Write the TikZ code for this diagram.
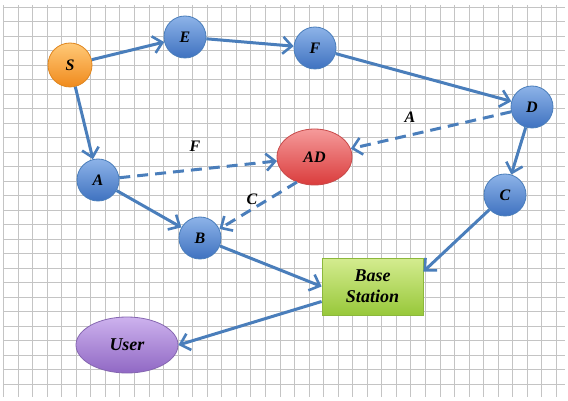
\documentclass[tikz,border=0pt]{standalone}
\usepackage{fontspec}
\setmainfont{Liberation Serif}
\usetikzlibrary{arrows.meta,shapes.geometric}
\definecolor{gridc}{HTML}{C4C4C4}
\definecolor{arr}{HTML}{4A7EBB}
\definecolor{bluetop}{HTML}{8DB3E8}
\definecolor{bluebot}{HTML}{3F72C0}
\definecolor{bluedr}{HTML}{4A7EBB}
\definecolor{ortop}{HTML}{FFC978}
\definecolor{orbot}{HTML}{F08A1C}
\definecolor{ordr}{HTML}{E0861E}
\definecolor{redtop}{HTML}{F59A9A}
\definecolor{redbot}{HTML}{DA3C3C}
\definecolor{reddr}{HTML}{C84A4A}
\definecolor{grtop}{HTML}{D4EC90}
\definecolor{grbot}{HTML}{98C83A}
\definecolor{grdr}{HTML}{8CB83C}
\definecolor{putop}{HTML}{CDB2EE}
\definecolor{pubot}{HTML}{9068C4}
\definecolor{pudr}{HTML}{8566B0}
\tikzset{
  x=1pt, y=-1pt,
  lbl/.style={font=\fontsize{16}{18}\selectfont\bfseries\itshape, text=black},
  bnode/.style={circle, minimum size=42pt, inner sep=0pt, top color=bluetop, bottom color=bluebot, draw=bluedr, line width=0.8pt, lbl},
  onode/.style={circle, minimum size=44pt, inner sep=0pt, top color=ortop, bottom color=orbot, draw=ordr, line width=0.8pt, lbl},
  rnode/.style={ellipse, minimum width=75pt, minimum height=56pt, inner sep=0pt, top color=redtop, bottom color=redbot, draw=reddr, line width=0.8pt, lbl},
  unode/.style={ellipse, minimum width=102pt, minimum height=56pt, inner sep=0pt, top color=putop, bottom color=pubot, draw=pudr, line width=0.8pt, text=black, font=\fontsize{18}{20}\selectfont\bfseries\itshape},
  bsnode/.style={rectangle, minimum width=101pt, minimum height=57pt, inner sep=0pt, top color=grtop, bottom color=grbot, draw=grdr, line width=0.8pt, align=center, text=black, font=\fontsize{18}{21}\selectfont\bfseries\itshape},
  conn/.style={draw=arr, line width=3pt, -{Straight Barb[length=9pt,width=17pt,line width=2.6pt]}},
  dconn/.style={conn, dash pattern=on 11pt off 7pt},
  elbl/.style={lbl}
}
\begin{document}
\begin{tikzpicture}
\useasboundingbox (0,0) rectangle (568,401);
\fill[white] (0,0) rectangle (568,401);
% grid
\foreach \i in {0,...,38} {
  \draw[gridc, line width=0.9pt] ({3.5+14.55*\i},5) -- ({3.5+14.55*\i},397);
}
\foreach \j in {0,...,26} {
  \draw[gridc, line width=0.9pt] (4,{7+14.5*\j}) -- (565,{7+14.5*\j});
}
% nodes
\node[onode] (S) at (70,65) {S};
\node[bnode] (E) at (185,37) {E};
\node[bnode] (F) at (315,48) {F};
\node[bnode] (D) at (532,107) {D};
\node[rnode] (AD) at (314.5,157) {AD};
\node[bnode] (A) at (98,180) {A};
\node[bnode] (C) at (505,195) {C};
\node[bnode] (B) at (200,238) {B};
\node[bsnode] (BS) at (372.5,286.5) {Base\\Station};
\node[unode] (U) at (127,345) {User};
% edges
\draw[conn] (S) -- (E);
\draw[conn] (E) -- (F);
\draw[conn] (F) -- (D);
\draw[conn] (S) -- (A);
\draw[conn] (D) -- (C);
\draw[conn] (A) -- (B);
\draw[conn] (B) -- (BS.west);
\draw[conn] (C) -- ([yshift=-14pt]BS.north east);
\draw[conn] ([yshift=-15pt]BS.west) -- (U.east);
\draw[dconn] (A) -- (AD);
\draw[dconn] (D) -- (AD);
\draw[dconn] (AD.235) -- (B.25);
% edge labels
\node[elbl] (lF) at (195,146) {F};
\node[elbl] (lA) at (410,117) {A};
\node[elbl] (lC) at (252,199) {C};
\end{tikzpicture}
\end{document}
